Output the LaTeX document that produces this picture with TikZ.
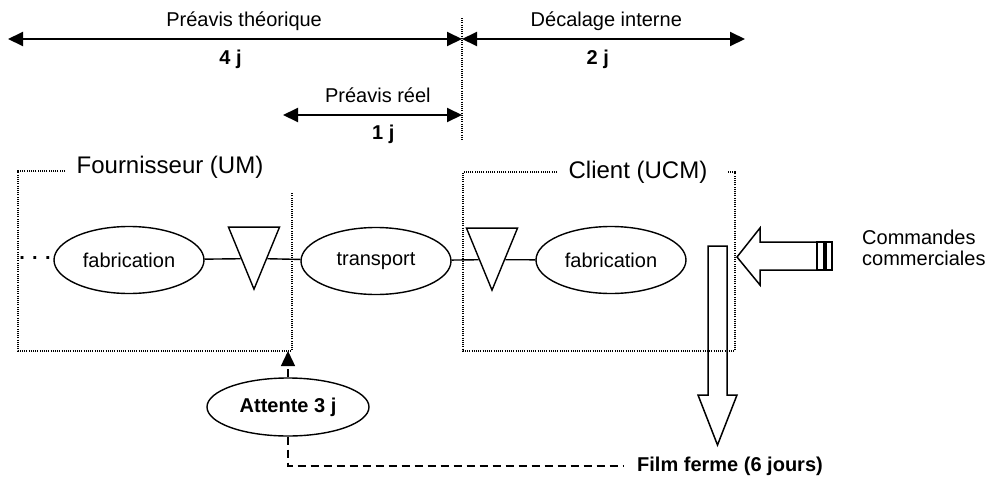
\documentclass[tikz,border=0pt]{standalone}
\usepackage{fontspec}
\setmainfont{Liberation Sans}
\usetikzlibrary{positioning, arrows.meta, shapes.geometric}

\begin{document}
\begin{tikzpicture}[
    x=1pt, y=-1pt,
    font=\fontsize{20}{21}\selectfont,
    every node/.style={align=center},
    txt/.style={inner sep=0pt},
    bold/.style={inner sep=0pt, font=\fontsize{20}{21}\selectfont\bfseries},
    title/.style={inner sep=0pt, font=\fontsize{24}{26}\selectfont},
    process/.style={
        draw, ellipse, line width=1.4pt, inner sep=0pt,
        minimum width=150pt, minimum height=67pt
    },
    stockbox/.style={
        draw, isosceles triangle, isosceles triangle stretches,
        shape border rotate=270, line width=1.4pt, inner sep=0pt,
        minimum width=51pt, minimum height=62pt
    },
    frame/.style={line width=1.3pt, dash pattern=on 1pt off 1.2pt},
    span/.style={line width=2pt, {Triangle[length=15pt,width=14pt]}-{Triangle[length=15pt,width=14pt]}},
    link/.style={line width=1.4pt},
    wait/.style={line width=1.4pt, dash pattern=on 8pt off 5pt},
    bigarrow/.style={line width=1.5pt, line join=miter}
]
\useasboundingbox (0,0) rectangle (986,477);

% --------------------------------------------------------------------------
% Time scale: theoretical and real notice, internal shift.
% --------------------------------------------------------------------------
\coordinate (t0) at (8,39);
\coordinate (t1) at (462,39);
\coordinate (t2) at (745,39);
\coordinate (r0) at (283,115);
\coordinate (r1) at (462,115);

\draw[frame] (462,18) -- (462,140);

\draw[span] (t0) -- node[txt, pos=0.52, yshift=18pt] (theoLbl) {Préavis théorique}
    node[bold, pos=0.49, yshift=-20.5pt] (theoVal) {4 j} (t1);
\draw[span] (t1) -- node[txt, pos=0.51, yshift=18pt] (shiftLbl) {Décalage interne}
    node[bold, pos=0.48, yshift=-20.5pt] (shiftVal) {2 j} (t2);
\draw[span] (r0) -- node[txt, pos=0.53, yshift=20pt] (realLbl) {Préavis réel}
    node[bold, pos=0.56, yshift=-19.5pt] (realVal) {1 j} (r1);

% --------------------------------------------------------------------------
% Supply chain: supplier -> transport -> customer.
% --------------------------------------------------------------------------
\node[txt, font=\fontsize{20}{21}\selectfont\bfseries] (more) at (35,258) {. . .};
\node[process] (fabA) at (129,260) {fabrication};
\node[stockbox, anchor=apex] (stockA) at (254,291) {};
\node[process] (trans) at (376,261) {transport};
\node[stockbox, anchor=apex] (stockB) at (492,292) {};
\node[process] (fabB) at (611,260) {fabrication};

\draw[link] (fabA) -- (stockA.right side);
\draw[link] (stockA.left side) -- (trans);
\draw[link] (trans) -- (stockB.right side);
\draw[link] (stockB.left side) -- (fabB);

% Frames of the two units.
\node[title] (supplier) at (170,167) {Fournisseur (UM)};
\node[title] (client) at (638,172) {Client (UCM)};
\draw[frame] (65,171) -- (18,171) -- (18,351) -- (292,351) -- (292,193);
\draw[frame] (557,172) -- (463,172) -- (463,351) -- (735,351) -- (735,172) -- (727,172);

% Orders coming in, firm horizon going out.
\node[txt, anchor=west, align=left] (orders) at (862,248) {Commandes\\commerciales};
\draw[bigarrow] (737,257) -- (760,228) -- (760,242) -- (817,242) -- (817,270)
    -- (760,270) -- (760,285) -- cycle;
\draw[bigarrow] (817,242) rectangle (824,270);
\draw[bigarrow] (826,242) rectangle (832,270);
\draw[bigarrow] (708,246) -- (727,246) -- (727,395) -- (737,395) -- (717.5,445)
    -- (698,395) -- (708,395) -- cycle;

% --------------------------------------------------------------------------
% Waiting time fed back to the supplier.
% --------------------------------------------------------------------------
\node[process, font=\fontsize{20}{21}\selectfont\bfseries, minimum width=162pt,
    minimum height=58pt] (attente) at (288,407) {Attente 3 j};
\node[bold, anchor=west, inner xsep=14pt] (film) at (623,466) {Film ferme (6 jours)};
\coordinate (supCorner) at (288,351);

\draw[wait, -{Triangle[length=15pt,width=14pt]}] (attente) -- (supCorner);
\draw[wait] (attente.south) |- (film.west);

\end{tikzpicture}
\end{document}
